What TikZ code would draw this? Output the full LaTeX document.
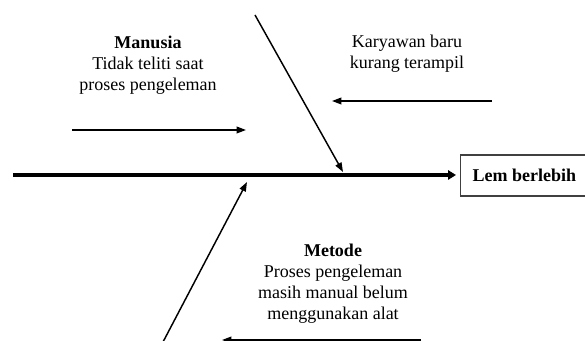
\documentclass[tikz,border=0pt]{standalone}
\usepackage{fontspec}
\setmainfont{Liberation Serif}
\usetikzlibrary{arrows.meta}
\begin{document}
\begin{tikzpicture}[x=0.75pt,y=-0.75pt,
  lbl/.style={align=center,font=\fontsize{13.5}{15.75}\selectfont,inner sep=0pt},
  bone/.style={line width=1.1pt,-{Triangle[length=7pt,width=5pt]}},
  spine/.style={line width=3pt,-{Triangle[length=6pt,width=7pt]},shorten >=3pt},
  effect/.style={draw=black!75,line width=1pt,minimum height=30.75pt,inner xsep=9pt,inner ysep=0pt,font=\fontsize{13.5}{15}\selectfont\bfseries}]
\useasboundingbox (0,0) rectangle (585,341);
\clip (0,0) rectangle (585,341);
% effect box
\node[effect,anchor=west] (eff) at (460,175.5) {Lem berlebih};
% spine
\coordinate (s0) at (13,175);
\draw[spine] (s0) -- (s0 -| eff.west);
% upper diagonal
\coordinate (d1a) at (255,15);
\coordinate (d1b) at (343,172);
\draw[bone] (d1a) -- (d1b);
% lower diagonal
\coordinate (d2a) at (163,342);
\coordinate (d2b) at (247,182);
\draw[bone] (d2a) -- (d2b);
% horizontal arrows
\coordinate (h1a) at (72,130);
\coordinate (h1b) at (246,130);
\draw[bone] (h1a) -- (h1b);
\coordinate (h2a) at (492,101);
\coordinate (h2b) at (332,101);
\draw[bone] (h2a) -- (h2b);
\coordinate (h3a) at (421,340);
\coordinate (h3b) at (222,340);
\draw[bone] (h3a) -- (h3b);
% labels
\node[lbl] (man) at (148,65) {\textbf{Manusia}\\Tidak teliti saat\\proses pengeleman};
\node[lbl] (kar) at (407,54) {Karyawan baru\\kurang terampil};
\node[lbl] (met) at (333,284) {\textbf{Metode}\\Proses pengeleman\\masih manual belum\\menggunakan alat};
\end{tikzpicture}
\end{document}
